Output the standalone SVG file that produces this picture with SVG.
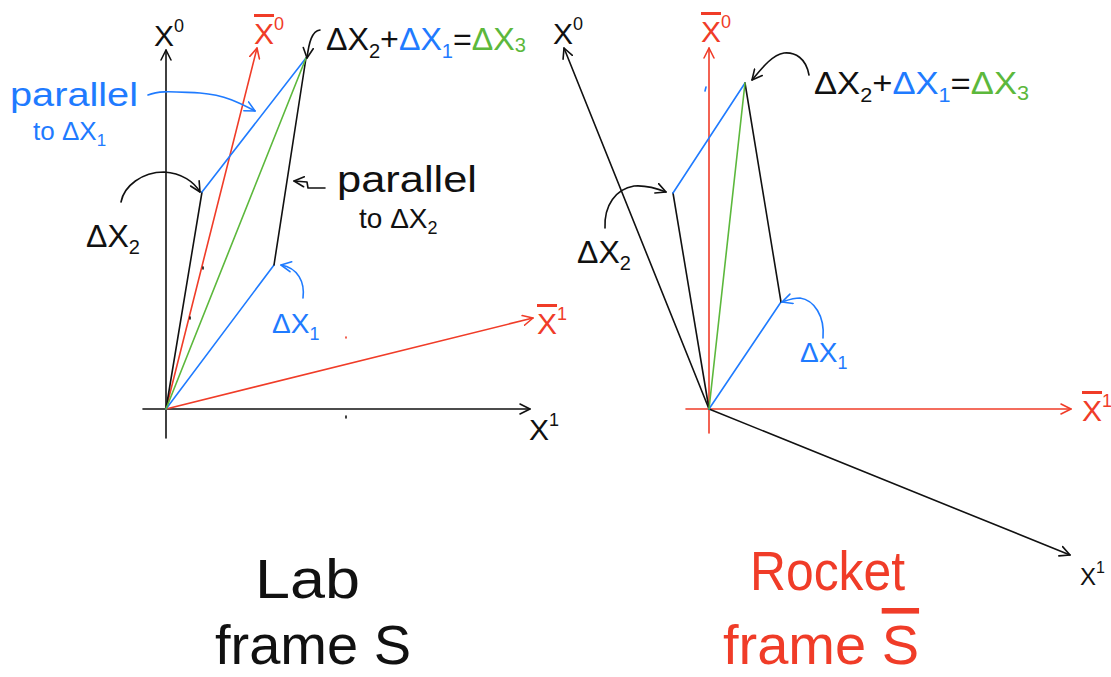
<svg xmlns="http://www.w3.org/2000/svg" width="1111" height="677" viewBox="0 0 1111 677">
<defs>
<style>
.k{stroke:#111;}.r{stroke:#f03c28;}.b{stroke:#1f7bff;}.g{stroke:#5cb83c;}
line,path{fill:none;stroke-width:1.6;stroke-linecap:round;stroke-linejoin:round;}
text{font-family:"Liberation Sans",Arial,sans-serif;}
.tk{fill:#111;}.tr{fill:#f03c28;}.tb{fill:#1f7bff;}.tg{fill:#5cb83c;}
.ax{font-size:30px;}
.lab{font-size:32px;}
.big{font-size:56px;}
</style>
<marker id="ak" viewBox="0 0 12 12" refX="11" refY="6" markerWidth="12" markerHeight="12" markerUnits="userSpaceOnUse" orient="auto"><path d="M1,1 L11,6 L1,11" style="stroke:#111;stroke-width:1.6;fill:none"/></marker>
<marker id="ar" viewBox="0 0 12 12" refX="11" refY="6" markerWidth="12" markerHeight="12" markerUnits="userSpaceOnUse" orient="auto"><path d="M1,1 L11,6 L1,11" style="stroke:#f03c28;stroke-width:1.6;fill:none"/></marker>
<marker id="ab" viewBox="0 0 12 12" refX="11" refY="6" markerWidth="12" markerHeight="12" markerUnits="userSpaceOnUse" orient="auto"><path d="M1,1 L11,6 L1,11" style="stroke:#1f7bff;stroke-width:1.6;fill:none"/></marker>
</defs>
<rect width="1111" height="677" fill="#fff"/>

<g id="connectors">
<!-- Left panel axes -->
<line class="k" x1="166" y1="438" x2="166" y2="50" marker-end="url(#ak)"/>
<line class="k" x1="143" y1="409" x2="530" y2="409" marker-end="url(#ak)"/>
<line class="r" x1="166" y1="409" x2="257" y2="48" marker-end="url(#ar)"/>
<line class="r" x1="166" y1="409" x2="533" y2="318" marker-end="url(#ar)"/>
<!-- Left panel vectors -->
<line class="k" x1="166" y1="409" x2="202" y2="192"/>
<line class="b" x1="166" y1="409" x2="274" y2="265"/>
<line class="b" x1="202" y1="192" x2="306" y2="58"/>
<line class="k" x1="274" y1="265" x2="306" y2="58"/>
<line class="g" x1="166" y1="409" x2="306" y2="58"/>
<!-- Left annotations -->
<path class="k" d="M320,30 C312,31 309,42 307,58" marker-end="url(#ak)"/>
<path class="b" d="M148,95 C160,90 175,92 200,93 C225,95 240,103 255,111" marker-end="url(#ab)"/>
<path class="k" d="M121,202 C124,186 142,172 164,172 C182,173 194,182 200,192" marker-end="url(#ak)"/>
<path class="k" d="M325,188 L308,188 L307,182 L294,181" marker-end="url(#ak)"/>
<path class="b" d="M303,298 C305,282 298,268 281,265" marker-end="url(#ab)"/>

<!-- Right panel axes -->
<line class="r" x1="709" y1="433" x2="709" y2="48" marker-end="url(#ar)"/>
<line class="r" x1="686" y1="409" x2="1071" y2="409" marker-end="url(#ar)"/>
<line class="k" x1="709" y1="409" x2="564" y2="48" marker-end="url(#ak)"/>
<line class="k" x1="709" y1="409" x2="1070" y2="555" marker-end="url(#ak)"/>
<!-- Right panel vectors -->
<line class="k" x1="709" y1="409" x2="673" y2="193"/>
<line class="b" x1="709" y1="409" x2="781" y2="302"/>
<line class="b" x1="673" y1="193" x2="745" y2="83"/>
<line class="k" x1="781" y1="302" x2="745" y2="83"/>
<line class="g" x1="709" y1="409" x2="745" y2="83"/>
<!-- Right annotations -->
<path class="k" d="M809,75 C806,58 795,52 784,53 C772,55 762,68 752,80" marker-end="url(#ak)"/>
<path class="k" d="M605,228 C604,205 616,189 634,186 C646,185 656,188 666,192" marker-end="url(#ak)"/>
<path class="b" d="M823,338 C825,316 814,300 800,298 C793,298 788,300 782,302" marker-end="url(#ab)"/>
<!-- small marks -->
<line class="k" x1="203" y1="267" x2="203" y2="269"/>
<line class="k" x1="190" y1="317" x2="190" y2="319"/>
<line class="r" x1="346" y1="337" x2="346" y2="338"/>
<line class="k" x1="346" y1="416" x2="346" y2="418"/>
<line class="b" x1="706" y1="87" x2="705" y2="91"/>
</g>

<g id="left-axis-labels">
<text class="tk ax" x="154" y="46">X<tspan font-size="18" dy="-14">0</tspan></text>
<text class="tr ax" x="254" y="44"><tspan text-decoration="overline">X</tspan><tspan font-size="18" dy="-14">0</tspan></text>
<text class="tk ax" x="529" y="440">X<tspan font-size="18" dy="-14">1</tspan></text>
<text class="tr ax" x="537" y="334"><tspan text-decoration="overline">X</tspan><tspan font-size="18" dy="-14">1</tspan></text>
</g>

<g id="left-sum-label">
<text class="lab" x="326" y="50" textLength="200" lengthAdjust="spacingAndGlyphs"><tspan class="tk">ΔX</tspan><tspan class="tk" font-size="20" dy="8">2</tspan><tspan class="tk" dy="-8">+</tspan><tspan class="tb">ΔX</tspan><tspan class="tb" font-size="20" dy="8">1</tspan><tspan class="tk" dy="-8">=</tspan><tspan class="tg">ΔX</tspan><tspan class="tg" font-size="20" dy="2">3</tspan></text>
</g>

<g id="left-parallel-dx1">
<text class="tb" font-size="34" x="10" y="106" textLength="128" lengthAdjust="spacingAndGlyphs">parallel</text>
<text class="tb" font-size="26" x="33" y="140">to ΔX<tspan font-size="17" dy="6">1</tspan></text>
</g>

<g id="left-parallel-dx2">
<text class="tk" font-size="36" x="337" y="192" textLength="140" lengthAdjust="spacingAndGlyphs">parallel</text>
<text class="tk" font-size="28" x="359" y="228">to ΔX<tspan font-size="18" dy="6">2</tspan></text>
</g>

<g id="left-dx2">
<text class="tk" font-size="32" x="86" y="247">ΔX<tspan font-size="20" dy="7">2</tspan></text>
</g>
<g id="left-dx1">
<text class="tb" font-size="28" x="272" y="333">ΔX<tspan font-size="18" dy="7">1</tspan></text>
</g>

<g id="right-axis-labels">
<text class="tk ax" x="553" y="44">X<tspan font-size="18" dy="-14">0</tspan></text>
<text class="tr ax" x="701" y="42"><tspan text-decoration="overline">X</tspan><tspan font-size="18" dy="-14">0</tspan></text>
<text class="tr ax" x="1082" y="421"><tspan text-decoration="overline">X</tspan><tspan font-size="18" dy="-14">1</tspan></text>
<text class="tk" font-size="24" x="1080" y="585">X<tspan font-size="16" dy="-12">1</tspan></text>
</g>

<g id="right-sum-label">
<text class="lab" x="814" y="94" textLength="215" lengthAdjust="spacingAndGlyphs"><tspan class="tk">ΔX</tspan><tspan class="tk" font-size="20" dy="8">2</tspan><tspan class="tk" dy="-8">+</tspan><tspan class="tb">ΔX</tspan><tspan class="tb" font-size="20" dy="8">1</tspan><tspan class="tk" dy="-8">=</tspan><tspan class="tg">ΔX</tspan><tspan class="tg" font-size="20" dy="6">3</tspan></text>
</g>

<g id="right-dx2">
<text class="tk" font-size="32" x="577" y="263">ΔX<tspan font-size="20" dy="7">2</tspan></text>
</g>
<g id="right-dx1">
<text class="tb" font-size="28" x="800" y="362">ΔX<tspan font-size="18" dy="7">1</tspan></text>
</g>

<g id="lab-frame-caption">
<text class="tk big" x="255" y="598" textLength="105" lengthAdjust="spacingAndGlyphs">Lab</text>
<text class="tk big" x="215" y="664">frame S</text>
</g>
<g id="rocket-frame-caption">
<text class="tr big" x="750" y="590" textLength="155" lengthAdjust="spacingAndGlyphs">Rocket</text>
<text class="tr big" x="723" y="664">frame <tspan text-decoration="overline">S</tspan></text>
</g>
</svg>
